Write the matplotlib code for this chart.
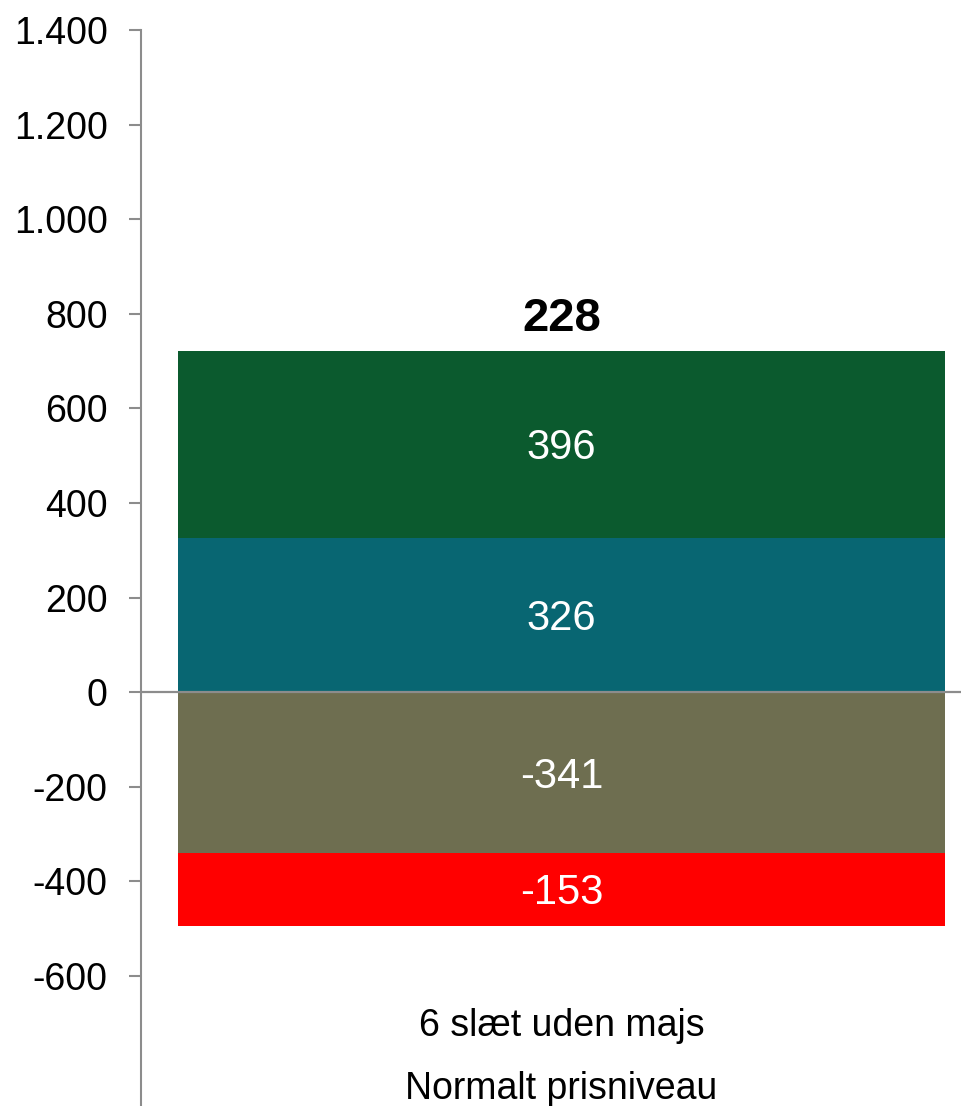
import matplotlib.pyplot as plt

plt.rcParams['font.family'] = ['Liberation Sans', 'DejaVu Sans']

# stacked segments (bottom-up order for positives, top-down for negatives)
segments = ['Seg A', 'Seg B', 'Seg C', 'Seg D']
values = [326, 396, -341, -153]
colors = ['#086672', '#0B5A2E', '#6E6E50', '#FF0000']
total = 228
cat_lines = ['6 slæt uden majs', 'Normalt prisniveau']
yticks = [-600, -400, -200, 0, 200, 400, 600, 800, 1000, 1200, 1400]

fig = plt.figure(figsize=(9.62, 11.06), dpi=100)
ax = fig.add_axes([141 / 962, 0, 1 - 141 / 962, 1 - 30 / 1106])

pos_base = 0
neg_base = 0
top = 0
for v, c in zip(values, colors):
    if v >= 0:
        ax.bar(0, v, bottom=pos_base, width=0.934, color=c, zorder=2)
        mid = pos_base + v / 2
        pos_base += v
        top = pos_base
    else:
        ax.bar(0, v, bottom=neg_base, width=0.934, color=c, zorder=2)
        mid = neg_base + v / 2
        neg_base += v
    ax.text(0, mid - 8, str(v), ha='center', va='center', color='white', fontsize=30, zorder=3)

ax.text(0, top + 42, str(total), ha='center', va='baseline', fontsize=34, fontweight='bold')

ax.axhline(0, color='#8c8c8c', lw=1.6, zorder=3)

ax.set_xlim(-0.512, 0.488)
ax.set_ylim(-875, 1400)
ax.set_yticks(yticks)
ax.set_yticklabels([f'{t:,}'.replace(',', '.') for t in yticks])
ax.tick_params(axis='y', length=9, width=1.5, color='#8c8c8c', pad=15, labelsize=27)
ax.set_xticks([])

for s in ['top', 'right', 'bottom']:
    ax.spines[s].set_visible(False)
ax.spines['left'].set_color('#8c8c8c')
ax.spines['left'].set_linewidth(1.5)

ax.text(0, -705, cat_lines[0], ha='center', va='center', fontsize=27)
ax.text(0, -838, cat_lines[1], ha='center', va='center', fontsize=27)

fig.savefig('out.png', dpi=100)
